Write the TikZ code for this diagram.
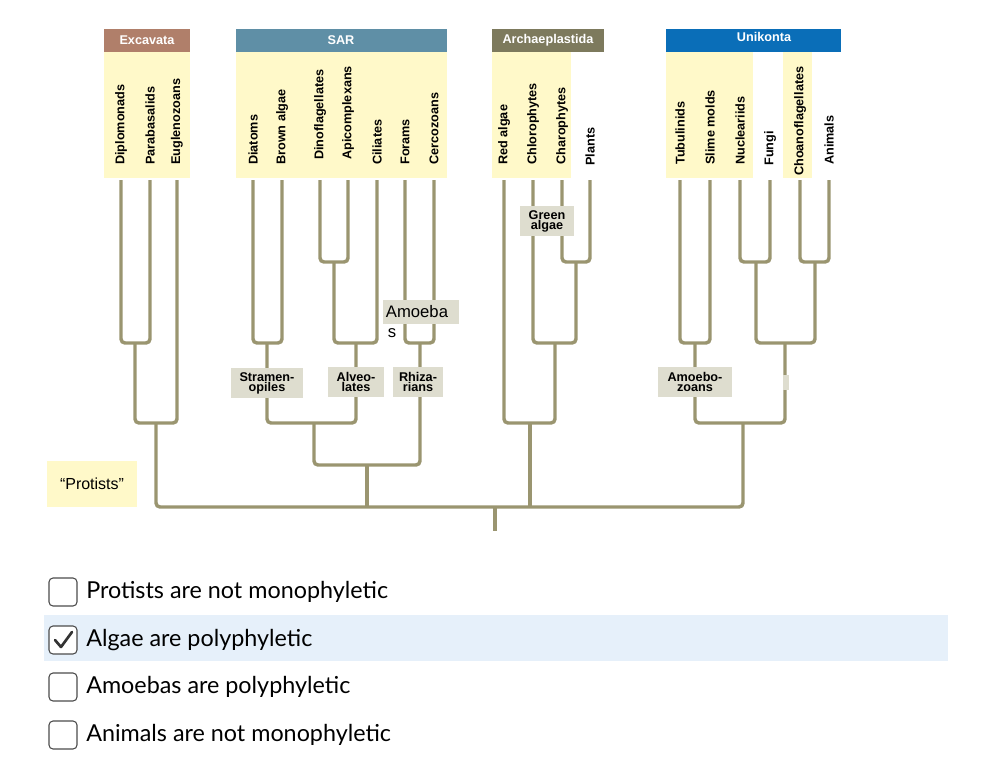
\documentclass[tikz,border=0pt]{standalone}
\usepackage{fontspec}
\setmainfont{Liberation Sans}
\newfontfamily\lato{Lato}
\definecolor{br}{HTML}{9A9570}
\definecolor{yl}{HTML}{FFF9C9}
\definecolor{lb}{HTML}{DEDDCF}
\definecolor{exc}{HTML}{B07F6A}
\definecolor{sar}{HTML}{5F8FA6}
\definecolor{arc}{HTML}{7D7A5D}
\definecolor{uni}{HTML}{0A6EB8}
\definecolor{hl}{HTML}{E6F0FA}
\begin{document}
\begin{tikzpicture}[x=0.75pt,y=-0.75pt,
  br/.style={draw=br,line width=2.6pt,rounded corners=3pt},
  leaf/.style={rotate=90,anchor=west,font=\bfseries\fontsize{9.5}{10}\selectfont,inner sep=0pt},
  hdr/.style={font=\bfseries\fontsize{9.5}{10}\selectfont,text=white},
  lab/.style={fill=lb,font=\bfseries\fontsize{9.5}{7.5}\selectfont,align=center,inner sep=0pt},
  cb/.style={draw=black!70,line width=0.8pt,rounded corners=3pt,fill=white},
  opt/.style={anchor=west,font=\lato\fontsize{17.5}{19}\selectfont,inner sep=0pt}]
\useasboundingbox (0,0) rectangle (996,772);
% headers and yellow areas
\fill[exc] (104,29) rectangle (190,52); \node[hdr] (hexc) at (147,40) {Excavata};
\fill[yl] (104,52) rectangle (190,178);
\fill[sar] (236,29) rectangle (447,52); \node[hdr] (hsar) at (341,40) {SAR};
\fill[yl] (236,52) rectangle (447,178);
\fill[arc] (492,29) rectangle (604,52); \node[hdr] (harc) at (548,40) {Archaeplastida};
\fill[yl] (492,52) rectangle (571,178);
\fill[uni] (666,29) rectangle (841,52); \node[hdr] (huni) at (764,37) {Unikonta};
\fill[yl] (666,52) rectangle (753,178);
\fill[yl] (783,52) rectangle (812,178);
% leaves
\foreach \x/\t/\y in {121/Diplomonads/165,150/Parabasalids/165,177/Euglenozoans/165,
 253/Diatoms/165,282/Brown algae/165,320/Dinoflagellates/160,348/Apicomplexans/160,377/Ciliates/165,405/Forams/165,434/Cercozoans/165,
 504/Red algae/165,533/Chlorophytes/165,562/Charophytes/165,590/Plants/166,
 680/Tubulinids/165,710/Slime molds/165,740/Nucleariids/165,770/Fungi/166,800/Choanoflagellates/176,829/Animals/165}
 \node[leaf] (l\x) at (\x,\y) {\t};
% tree
\draw[br] (121,180) -- (121,343) -- (150,343) -- (150,180);
\draw[br] (135,343) -- (135,423) -- (177,423) -- (177,180);
\draw[br] (253,180) -- (253,343) -- (282,343) -- (282,180);
\draw[br] (320,180) -- (320,262) -- (348,262) -- (348,180);
\draw[br] (334,262) -- (334,343) -- (377,343) -- (377,180);
\draw[br] (405,180) -- (405,343) -- (434,343) -- (434,180);
\draw[br] (267,343) -- (267,423) -- (356,423) -- (356,343);
\draw[br] (314,423) -- (314,465) -- (420,465) -- (420,343);
\draw[br] (504,180) -- (504,423) -- (555,423) -- (555,343);
\draw[br] (533,180) -- (533,343) -- (576,343) -- (576,262);
\draw[br] (562,180) -- (562,262) -- (590,262) -- (590,180);
\draw[br] (680,180) -- (680,343) -- (710,343) -- (710,180);
\draw[br] (740,180) -- (740,262) -- (770,262) -- (770,180);
\draw[br] (800,180) -- (800,262) -- (829,262) -- (829,180);
\draw[br] (756,262) -- (756,343) -- (815,343) -- (815,262);
\draw[br] (695,343) -- (695,423) -- (785,423) -- (785,343);
\draw[br] (156,423) -- (156,507) -- (743,507) -- (743,423);
\draw[br] (367,465) -- (367,507);
\draw[br] (530,423) -- (530,507);
\draw[br,rounded corners=0pt] (495,507) -- (495,531);
% clade labels
\node[lab,minimum width=54pt,minimum height=23pt] (stra) at (267,383) {Stramen-\\opiles};
\node[lab,minimum width=42pt,minimum height=22pt] (alv) at (356,382) {Alveo-\\lates};
\node[lab,minimum width=38pt,minimum height=22pt] (rhi) at (418,382) {Rhiza-\\rians};
\node[lab,minimum width=41pt,minimum height=23pt] (gre) at (547,221) {Green\\algae};
\node[lab,minimum width=55pt,minimum height=22pt] (amz) at (695,382) {Amoebo-\\zoans};
\fill[lb] (783,375) rectangle (789,390);
\node[fill=lb,minimum width=57pt,minimum height=18pt,inner sep=0pt,font=\fontsize{12.5}{14}\selectfont] (amb) at (421,312) {\hspace*{-6pt}Amoeba};
\node[font=\fontsize{12.5}{14}\selectfont,inner sep=0pt] (ambs) at (392,333) {s};
\node[fill=yl,minimum width=68pt,minimum height=34.5pt,inner sep=0pt,font=\fontsize{12}{14}\selectfont] (prot) at (92,484) {“Protists”};
% checklist
\fill[hl] (44,615) rectangle (948,661);
\foreach \y/\t/\n in {592/Protists are not monophyletic/a,640/Algae are polyphyletic/b,687/Amoebas are polyphyletic/c,735/Animals are not monophyletic/d}{
 \draw[cb] (49,\y-14) rectangle (77,\y+14);
 \node[opt] (o\n) at (86,\y) {\t};}
\draw[black!80,line width=2pt,line cap=round,line join=round] (55,640) -- (61,647) -- (72,632);
\end{tikzpicture}
\end{document}
